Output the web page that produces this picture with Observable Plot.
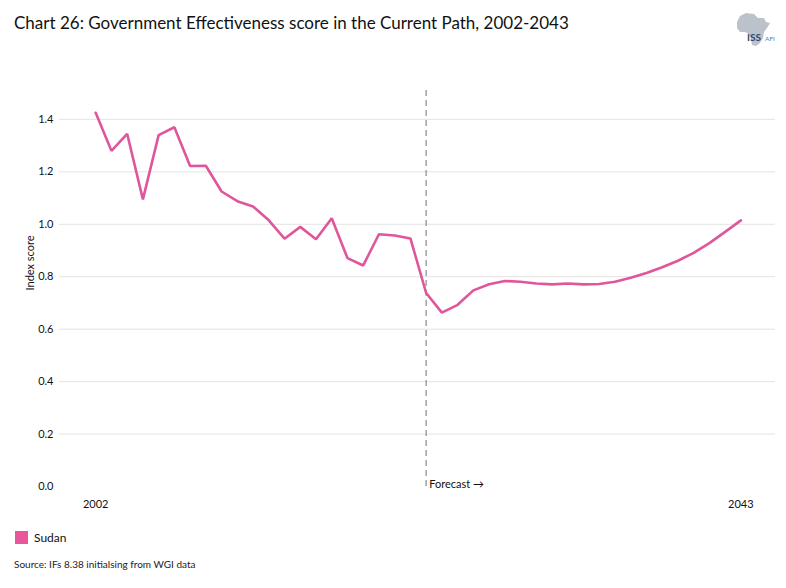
<!DOCTYPE html>
<html>
<head>
<meta charset="utf-8">
<script src="https://cdn.jsdelivr.net/npm/d3@7"></script>
<script src="https://cdn.jsdelivr.net/npm/@observablehq/plot@0.6"></script>
<style>
  html, body { margin: 0; padding: 0; background: #fff; }
  body { width: 786px; height: 588px; position: relative; overflow: hidden; font-family: Lato, "Open Sans", sans-serif; color: #111; }
  #title { position: absolute; left: 14px; top: 12px; font-size: 17px; white-space: nowrap; color: #111; }
  #logo { position: absolute; left: 730px; top: 10px; z-index: 5; }
  #chart { position: absolute; left: 0; top: 40px; z-index: 1; }
  #legend { position: absolute; left: 15px; top: 530px; font-size: 12px; display: flex; align-items: center; }
  #legend .sw { width: 13px; height: 13px; background: #e8579b; margin-right: 6px; }
  #source { position: absolute; left: 14px; top: 558px; font-size: 10px; color: #222; }
</style>
</head>
<body>
<div id="title">Chart 26: Government Effectiveness score in the Current Path, 2002-2043</div>
<svg id="logo" width="50" height="40" viewBox="0 0 50 40">
  <path d="M10 6 L16 3 L24 4 L28 8 L34 8 L36 12 L40 13 L37 18 L34 22 L33 28 L30 33 L26 36 L22 35 L21 29 L19 24 L15 22 L10 22 L7 18 L7 12 Z" fill="#bcc2c9"/>
  <text x="17" y="31" font-size="10" font-weight="bold" fill="#2b4a6f" font-family="Lato, sans-serif">ISS</text>
  <text x="35" y="31" font-size="6.5" fill="#4a7fb0" font-family="Lato, sans-serif">AFI</text>
</svg>
<div id="chart"></div>
<div id="legend"><div class="sw"></div><span>Sudan</span></div>
<div id="source">Source: IFs 8.38 initialsing from WGI data</div>
<script>
const years = [2002,2003,2004,2005,2006,2007,2008,2009,2010,2011,2012,2013,2014,2015,2016,2017,2018,2019,2020,2021,2022,2023,2024,2025,2026,2027,2028,2029,2030,2031,2032,2033,2034,2035,2036,2037,2038,2039,2040,2041,2042,2043];
const sudan = [1.425,1.28,1.345,1.095,1.34,1.37,1.222,1.223,1.125,1.088,1.068,1.015,0.945,0.99,0.943,1.023,0.871,0.843,0.962,0.957,0.946,0.738,0.663,0.693,0.748,0.771,0.784,0.781,0.774,0.771,0.774,0.771,0.772,0.781,0.796,0.814,0.836,0.861,0.891,0.928,0.971,1.015];
const yTicks = [0, 0.2, 0.4, 0.6, 0.8, 1.0, 1.2, 1.4];
const gridTicks = [0.2, 0.4, 0.6, 0.8, 1.0, 1.2, 1.4];
const xTicks = [2002, 2043];
const forecastYear = 2023;
const seriesName = "Sudan";

const data = years.map((y, i) => ({year: y, value: sudan[i], name: seriesName}));

const plot = Plot.plot({
  width: 786,
  height: 480,
  marginLeft: 59,
  marginRight: 11,
  marginTop: 50,
  marginBottom: 30,
  style: {fontFamily: "Lato, 'Open Sans', sans-serif", fontSize: "11px", color: "#111", background: "transparent"},
  x: {domain: [1999.7, 2045.2], ticks: xTicks, tickFormat: d => String(d), tickSize: 0, tickPadding: 10, label: null},
  y: {domain: [-0.015, 1.51], ticks: yTicks, tickFormat: d => d.toFixed(1), tickSize: 0, tickPadding: 6, label: null},
  marks: [
    Plot.ruleY(gridTicks, {stroke: "#e3e3e3", strokeWidth: 1}),
    Plot.ruleX([forecastYear], {stroke: "#a0a0a0", strokeWidth: 1.5, strokeDasharray: "6,4"}),
    Plot.line(data, {x: "year", y: "value", stroke: "#e0569a", strokeWidth: 2.6, strokeLinejoin: "miter"}),
    Plot.text([{x: forecastYear, y: 0}], {x: "x", y: "y", text: () => "Forecast \u2192", textAnchor: "start", dx: 3, dy: -2, fontSize: 11, fill: "#111"}),
    Plot.text(["Index score"], {frameAnchor: "left", rotate: -90, dx: -29, fontSize: 11, fill: "#111"}),
    Plot.axisX({ticks: xTicks, tickFormat: d => String(d), tickSize: 0, tickPadding: 10, label: null}),
    Plot.axisY({ticks: yTicks, tickFormat: d => d.toFixed(1), tickSize: 0, tickPadding: 6, label: null})
  ]
});
document.getElementById("chart").appendChild(plot);
</script>
</body>
</html>
